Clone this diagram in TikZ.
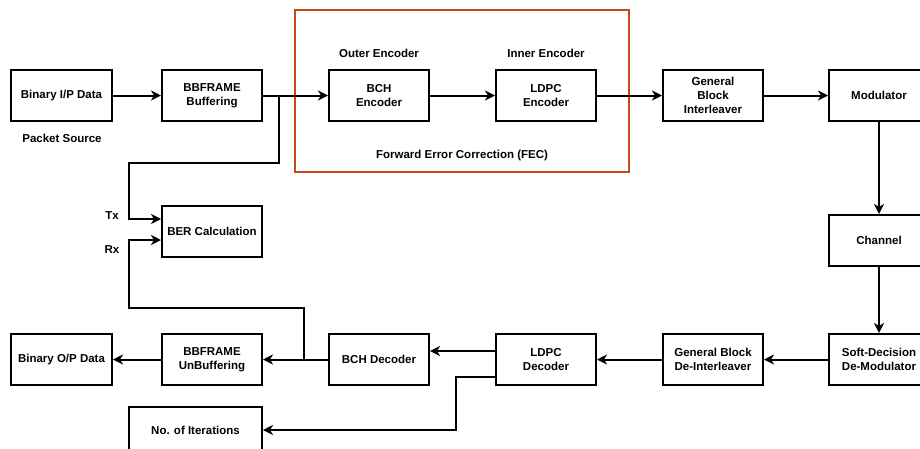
\documentclass[tikz,border=0pt]{standalone}
\usepackage{fontspec}
\setmainfont{Liberation Sans}
\usetikzlibrary{arrows.meta}
\definecolor{fec}{RGB}{200,72,22}
\begin{document}
\begin{tikzpicture}[x=1pt,y=-1pt,
  blk/.style={draw,line width=2pt,minimum width=100pt,minimum height=51pt,align=center,
    font=\fontsize{11.5}{14}\selectfont\bfseries,inner sep=1pt},
  lbl/.style={font=\fontsize{11.5}{14}\selectfont\bfseries,inner sep=0pt},
  arr/.style={line width=2pt,-{Stealth[length=10pt,width=10pt,inset=3pt]}},
  ln/.style={line width=2pt}]
\path[use as bounding box] (0,0) rectangle (920,448);
\clip (0,0) rectangle (920,448);
% FEC group
\draw[fec,line width=2pt] (295,10) rectangle (629,172);
\node[lbl] (outer) at (379,53) {Outer Encoder};
\node[lbl] (inner) at (546,53) {Inner Encoder};
\node[lbl] (feclbl) at (462,156) {Forward Error Correction (FEC)};
% top row
\node[blk,minimum width=101pt] (src) at (61.5,95.5) {Binary I/P Data};
\node[lbl] (pkt) at (62,138) {Packet Source};
\node[blk] (buf) at (212,95.5) {BBFRAME\\Buffering};
\node[blk] (bche) at (379,95.5) {BCH\\Encoder};
\node[blk] (ldpce) at (546,95.5) {LDPC\\Encoder};
\node[blk] (intl) at (713,95.5) {General\\Block\\Interleaver};
\node[blk] (mod) at (879,95.5) {Modulator};
\node[blk] (chan) at (879,240.5) {Channel};
% bottom row
\node[blk] (demod) at (879,359.5) {Soft-Decision\\De-Modulator};
\node[blk] (dintl) at (713,359.5) {General Block\\De-Interleaver};
\node[blk] (ldpcd) at (546,359.5) {LDPC\\Decoder};
\node[blk] (bchd) at (379,359.5) {BCH Decoder};
\node[blk] (ubuf) at (212,359.5) {BBFRAME\\UnBuffering};
\node[blk,minimum width=101pt] (out) at (61.5,359.5) {Binary O/P Data};
\node[blk,minimum width=133pt,minimum height=46pt] (iter) at (195.5,430) {No. of Iterations};
\node[blk] (ber) at (212,231.5) {BER Calculation};
\node[lbl] (tx) at (112,216) {Tx};
\node[lbl] (rx) at (112,250) {Rx};
% helper coordinates
\coordinate (txj) at (279,95.5);
\coordinate (txa) at (129,163);
\coordinate (txy) at (0,219);
\coordinate (rxj) at (304,359.5);
\coordinate (rxa) at (129,308);
\coordinate (rxy) at (0,240);
\coordinate (ity) at (456,377);
\coordinate (bcy) at (0,351);
% connectors
\draw[arr] (src) -- (buf);
\draw[arr] (buf) -- (bche);
\draw[arr] (bche) -- (ldpce);
\draw[arr] (ldpce) -- (intl);
\draw[arr] (intl) -- (mod);
\draw[arr] (mod) -- (chan);
\draw[arr] (chan) -- (demod);
\draw[arr] (demod) -- (dintl);
\draw[arr] (dintl) -- (ldpcd);
\draw[arr] (ldpcd.west |- bcy) -- (bchd.east |- bcy);
\draw[arr] (ldpcd.west |- ity) -| (ity) |- (iter.east);
\draw[arr] (bchd) -- (ubuf);
\draw[arr] (ubuf) -- (out);
\draw[arr] (txj) |- (txa) |- (ber.west |- txy);
\draw[arr] (rxj) |- (rxa) |- (ber.west |- rxy);
\end{tikzpicture}
\end{document}
